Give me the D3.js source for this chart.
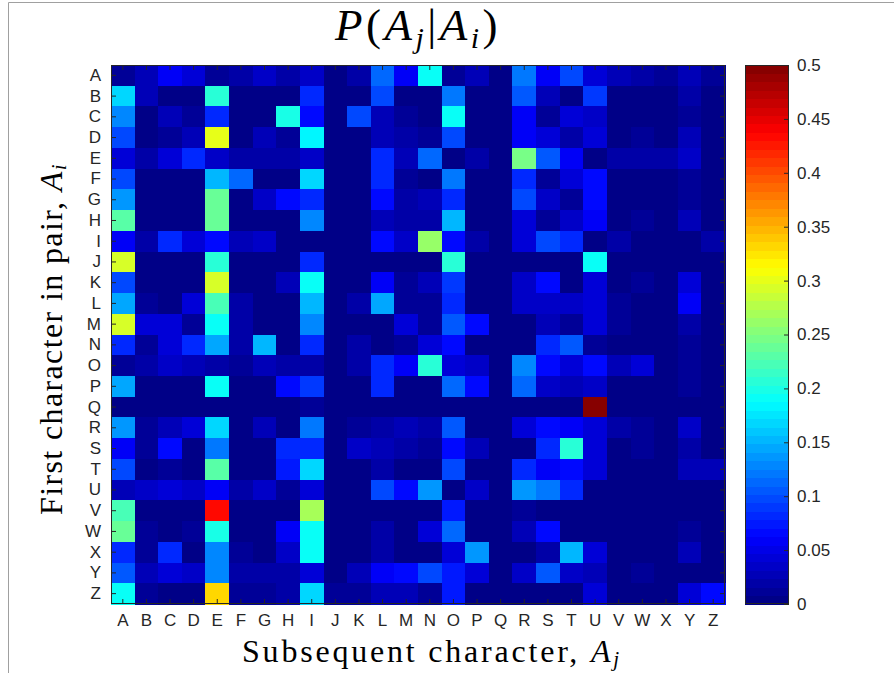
<!DOCTYPE html>
<html><head><meta charset="utf-8">
<script src="https://cdn.jsdelivr.net/npm/d3@7"></script>
<style>body{margin:0;background:#fff;} svg{display:block;}</style>
</head><body>
<svg id="chart" width="894" height="673"></svg>
<script>
const letters = "ABCDEFGHIJKLMNOPQRSTUVWXYZ".split("");
const colorTicks = [0,0.05,0.1,0.15,0.2,0.25,0.3,0.35,0.4,0.45,0.5];
const rA=[.01,.03,.06,.04,.01,.02,.035,.02,.035,.005,.02,.11,.06,.19,.01,.03,.005,.12,.06,.10,.04,.03,.02,.015,.03,.01];
const rB=[.17,.03,.005,.005,.21,.005,.005,.005,.085,.005,.005,.10,.005,.005,.12,.005,.005,.105,.025,.005,.09,.005,.005,.005,.02,.005];
const rC=[.13,.005,.03,.01,.08,.005,.005,.20,.07,.005,.10,.03,.01,.005,.19,.005,.005,.06,.01,.045,.035,.005,.005,.005,.015,.005];
const rD=[.10,.005,.01,.03,.30,.005,.025,.01,.18,.005,.005,.03,.02,.015,.10,.005,.005,.06,.045,.02,.045,.005,.015,.005,.025,.005];
const rE=[.045,.02,.04,.08,.035,.02,.02,.02,.035,.005,.005,.085,.03,.11,.005,.02,.005,.245,.105,.055,.005,.02,.02,.02,.035,.005];
const rF=[.10,.005,.005,.005,.155,.11,.005,.005,.17,.005,.005,.08,.01,.005,.12,.005,.005,.085,.015,.04,.065,.005,.005,.005,.015,.005];
const rG=[.135,.005,.005,.005,.235,.005,.035,.07,.08,.005,.005,.07,.02,.025,.08,.005,.005,.10,.035,.01,.065,.005,.005,.005,.015,.005];
const rH=[.23,.005,.005,.005,.24,.005,.005,.005,.13,.005,.005,.03,.02,.02,.155,.005,.005,.04,.01,.035,.06,.005,.015,.005,.025,.005];
const rI=[.055,.02,.085,.04,.07,.025,.035,.005,.005,.005,.005,.065,.035,.265,.065,.02,.005,.04,.10,.08,.005,.02,.005,.005,.005,.02];
const rJ=[.29,.005,.005,.005,.21,.005,.005,.005,.08,.005,.005,.005,.005,.005,.21,.005,.005,.005,.005,.005,.19,.005,.005,.005,.005,.005];
const rK=[.10,.005,.005,.005,.29,.005,.005,.03,.195,.005,.005,.06,.01,.03,.09,.005,.005,.035,.065,.005,.04,.005,.015,.005,.04,.005];
const rL=[.145,.01,.005,.04,.22,.02,.005,.005,.155,.005,.02,.145,.01,.01,.08,.005,.005,.035,.035,.035,.04,.015,.005,.005,.06,.005];
const rM=[.29,.045,.045,.01,.19,.02,.005,.005,.13,.005,.005,.005,.04,.01,.105,.065,.005,.005,.03,.01,.045,.01,.005,.005,.02,.005];
const rN=[.08,.01,.045,.085,.145,.02,.155,.005,.08,.005,.02,.005,.01,.04,.065,.005,.005,.005,.085,.105,.01,.005,.005,.005,.015,.005];
const rO=[.01,.02,.035,.03,.02,.015,.03,.02,.02,.005,.02,.085,.055,.21,.045,.035,.005,.13,.065,.04,.07,.03,.045,.005,.015,.005];
const rP=[.145,.005,.005,.005,.195,.005,.005,.065,.09,.005,.005,.08,.005,.005,.11,.065,.005,.11,.035,.025,.035,.005,.005,.005,.015,.005];
const rQ=[.005,.005,.005,.005,.005,.005,.005,.005,.01,.005,.005,.005,.005,.005,.005,.005,.005,.005,.005,.005,.5,.005,.005,.005,.005,.005];
const rR=[.135,.01,.025,.04,.17,.005,.03,.005,.12,.005,.015,.02,.025,.02,.105,.005,.005,.04,.065,.06,.04,.02,.01,.005,.035,.005];
const rS=[.06,.01,.065,.005,.12,.005,.005,.08,.08,.005,.035,.025,.02,.01,.065,.03,.005,.005,.08,.205,.04,.005,.015,.005,.02,.005];
const rT=[.10,.005,.015,.005,.23,.005,.005,.075,.17,.005,.005,.02,.005,.005,.095,.005,.005,.085,.055,.065,.04,.005,.005,.005,.025,.025];
const rU=[.03,.035,.04,.035,.055,.02,.035,.01,.045,.005,.005,.10,.065,.135,.005,.035,.005,.135,.12,.08,.005,.005,.005,.005,.005,.005];
const rV=[.225,.005,.005,.005,.43,.005,.005,.005,.27,.005,.005,.005,.005,.005,.075,.005,.005,.01,.005,.005,.005,.005,.005,.005,.005,.005];
const rW=[.235,.015,.005,.015,.20,.005,.005,.06,.195,.005,.005,.02,.005,.045,.11,.005,.005,.025,.065,.005,.005,.005,.005,.005,.015,.005];
const rX=[.085,.015,.08,.005,.13,.015,.005,.035,.19,.005,.005,.02,.005,.005,.045,.135,.005,.005,.02,.155,.04,.005,.005,.005,.025,.005];
const rY=[.105,.03,.045,.035,.13,.02,.02,.02,.045,.005,.025,.06,.065,.10,.075,.04,.005,.035,.105,.035,.025,.005,.015,.005,.005,.005];
const rZ=[.19,.015,.005,.005,.335,.01,.01,.02,.165,.01,.015,.03,.025,.015,.075,.005,.005,.005,.005,.005,.04,.005,.005,.005,.04,.07];
const matrix=[rA,rB,rC,rD,rE,rF,rG,rH,rI,rJ,rK,rL,rM,rN,rO,rP,rQ,rR,rS,rT,rU,rV,rW,rX,rY,rZ];

const cells = [];
matrix.forEach((row,i)=>row.forEach((v,j)=>cells.push({r:letters[i],c:letters[j],v})));

const vmax = 0.5, nColors = 64;
function jet(v){
  let k = Math.floor(v/vmax*nColors); k = Math.max(0, Math.min(nColors-1, k));
  const t = (k+0.5)/nColors;
  const cl = x=>Math.max(0,Math.min(1,x));
  const r = cl(1.5-Math.abs(4*t-3)), g = cl(1.5-Math.abs(4*t-2)), b = cl(1.5-Math.abs(4*t-1));
  return d3.rgb(r*255,g*255,b*255).toString();
}

const svg = d3.select("#chart");
const L=111, R=725, T=65, B=604;
const axisCol = "#262626";

svg.append("path").attr("d","M8.5,673 L8.5,2.5 L894,2.5").attr("fill","none").attr("stroke","#a0a0a0").attr("stroke-width",1);

const x = d3.scaleBand().domain(letters).range([L,R]);
const y = d3.scaleBand().domain(letters).range([T,B]);

svg.append("g").selectAll("rect").data(cells).join("rect")
  .attr("x",d=>x(d.c)).attr("y",d=>y(d.r))
  .attr("width",x.bandwidth()+0.5).attr("height",y.bandwidth()+0.5)
  .attr("fill",d=>jet(d.v)).attr("shape-rendering","crispEdges");

const tickFont = "'Liberation Sans', Arial, Helvetica, sans-serif";
const xAxis = svg.append("g").attr("transform",`translate(0,${B})`)
  .call(d3.axisBottom(x).tickSizeInner(-5).tickSizeOuter(0).tickPadding(10));
const xTop = svg.append("g").attr("transform",`translate(0,${T})`)
  .call(d3.axisTop(x).tickSizeInner(-5).tickSizeOuter(0).tickFormat(""));
const yAxis = svg.append("g").attr("transform",`translate(${L},0)`)
  .call(d3.axisLeft(y).tickSizeInner(-5).tickSizeOuter(0).tickPadding(10));
const yRight = svg.append("g").attr("transform",`translate(${R},0)`)
  .call(d3.axisRight(y).tickSizeInner(-5).tickSizeOuter(0).tickFormat(""));
[xAxis,xTop,yAxis,yRight].forEach(g=>{
  g.select(".domain").remove();
  g.selectAll("line").attr("stroke",axisCol).attr("stroke-width",1);
  g.selectAll("text").attr("fill",axisCol).attr("font-family",tickFont).attr("font-size",17);
});
svg.append("rect").attr("x",L+0.5).attr("y",T+0.5).attr("width",R-L-1).attr("height",B-T-1)
  .attr("fill","none").attr("stroke",axisCol).attr("stroke-width",1);

const CL=745, CR=789;
const cy = d3.scaleLinear().domain([0,vmax]).range([B,T]);
const steps = d3.range(nColors);
svg.append("g").selectAll("rect").data(steps).join("rect")
  .attr("x",CL).attr("width",CR-CL)
  .attr("y",k=>cy((k+1)*vmax/nColors)).attr("height",k=>cy(k*vmax/nColors)-cy((k+1)*vmax/nColors)+0.5)
  .attr("fill",k=>jet((k+0.5)*vmax/nColors)).attr("shape-rendering","crispEdges");
const cAxis = svg.append("g").attr("transform",`translate(${CR},0)`)
  .call(d3.axisRight(cy).tickValues(colorTicks).tickFormat(d3.format("")).tickSizeInner(-5).tickSizeOuter(0).tickPadding(8));
cAxis.select(".domain").remove();
cAxis.selectAll("line").attr("stroke",axisCol);
cAxis.selectAll("text").attr("fill",axisCol).attr("font-family",tickFont).attr("font-size",17);
svg.append("rect").attr("x",CL+0.5).attr("y",T+0.5).attr("width",CR-CL-1).attr("height",B-T-1)
  .attr("fill","none").attr("stroke",axisCol).attr("stroke-width",1);

const serif = "'Liberation Serif','DejaVu Serif',serif";
function fitSpacing(sel, target, nchars){
  const w = sel.node().getBBox().width;
  sel.attr("letter-spacing", Math.max(0,(target-w)/nchars));
}

const title = svg.append("text").attr("x",418).attr("y",40).attr("text-anchor","middle")
  .attr("font-family",serif).attr("font-size",45).attr("fill","#000");
title.append("tspan").attr("font-style","italic").text("P");
title.append("tspan").text("(");
title.append("tspan").attr("font-style","italic").text("A");
title.append("tspan").attr("font-style","italic").attr("font-size",30).attr("dy",8).text("j");
title.append("tspan").attr("dy",-8).text("|");
title.append("tspan").attr("font-style","italic").text("A");
title.append("tspan").attr("font-style","italic").attr("font-size",30).attr("dy",8).text("i");
title.append("tspan").attr("dy",-8).text(")");
fitSpacing(title,167,8);

const xl = svg.append("text").attr("x",242).attr("y",662).attr("text-anchor","start")
  .attr("font-family",serif).attr("font-size",32).attr("fill","#000");
xl.append("tspan").text("Subsequent character, ");
xl.append("tspan").attr("font-style","italic").text("A");
xl.append("tspan").attr("font-style","italic").attr("font-size",21).attr("dy",4).text("j");
fitSpacing(xl,380,24);

const yl = svg.append("text").attr("transform",`translate(62,515) rotate(-90)`).attr("text-anchor","start")
  .attr("font-family",serif).attr("font-size",32).attr("fill","#000");
yl.append("tspan").text("First character in pair, ");
yl.append("tspan").attr("font-style","italic").text("A");
yl.append("tspan").attr("font-style","italic").attr("font-size",21).attr("dy",4).text("i");
fitSpacing(yl,352,27);
</script>
</body></html>
